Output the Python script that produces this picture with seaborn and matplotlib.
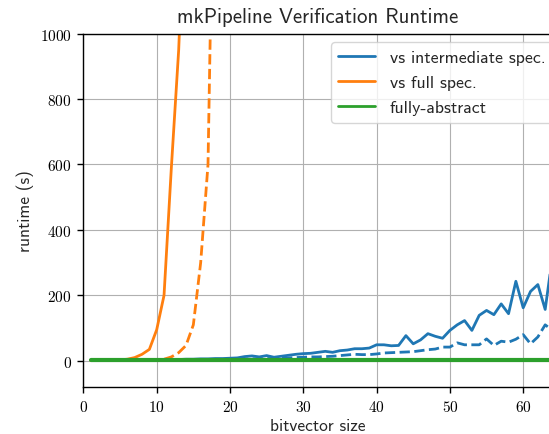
import matplotlib
matplotlib.use("Agg")
import matplotlib.pyplot as plt
import seaborn as sns
import pandas as pd

# ---- data ----
x_inter = list(range(1, 65))
inter_solid = [2, 2, 2, 2, 2, 3, 3, 3, 3,
               3, 4, 4, 4, 5, 5, 6, 6, 7, 7, 8, 9,
               13, 15, 12, 16, 11, 14, 17, 20, 22, 23, 26, 29, 26, 31, 33, 37, 37, 39,
               49, 49, 46, 47, 77, 52, 64, 83, 75, 69, 93, 110, 123, 93, 139, 154,
               141, 174, 144, 243, 162, 212, 233, 157, 320]
inter_dashed = [1, 1, 1, 1, 1, 1, 2, 2, 2, 2, 2, 2, 3, 3, 3, 3, 3, 4, 4, 4,
                5, 5, 6, 6, 7, 7, 8, 9, 10,
                11, 12, 12, 13, 14, 16, 18, 20, 19, 19, 21, 24, 25, 26,
                27, 28, 31, 34, 36, 42, 42, 55, 49, 49, 49, 67, 47, 60, 57, 66,
                80, 52, 73, 110, 93]
x_full_solid = list(range(1, 15))
full_solid = [1, 1, 1, 2, 3, 5, 10, 20, 35, 95, 200, 590, 950, 1500]
x_full_dashed = list(range(1, 19))
full_dashed = [1, 1, 1, 1, 1, 1, 1, 1, 1, 2, 5, 12, 25, 47, 110, 300, 600, 1900]
x_abstract = list(range(1, 65))
abstract = [2, 2, 2, 2, 2, 2, 2, 2, 2, 2, 2, 2, 2, 2, 2, 2,
            2, 2, 2, 2, 2, 2, 2, 2, 2, 2, 2, 2, 2, 2, 2, 2,
            2, 2, 2, 2, 2, 2, 2, 2, 2, 2, 2, 2, 2, 2, 2, 2,
            2, 2, 2, 2, 2, 2, 2, 2, 2, 2, 2, 2, 2, 2, 2, 2]
labels = ["vs intermediate spec.", "vs full spec.", "fully-abstract"]
x_ticks = [0, 10, 20, 30, 40, 50, 60]
y_ticks = [0, 200, 400, 600, 800, 1000]

sns.set_style("ticks")
plt.rcParams.update({
    "axes.grid": True,
    "grid.color": "#b0b0b0",
    "grid.linewidth": 0.8,
    "axes.edgecolor": "black",
    "axes.linewidth": 1.0,
    "xtick.color": "black",
    "ytick.color": "black",
    "axes.formatter.use_mathtext": True,
})
plt.rcParams["font.family"] = ["cmss10", "DejaVu Sans"]

blue, orange, green = "#1f77b4", "#ff7f0e", "#2ca02c"

fig = plt.figure(figsize=(5.49, 4.35), dpi=100)
ax = fig.add_axes([0.1519, 0.108, 0.8545, 0.8126])
ax.set_axisbelow(True)

sns.lineplot(x=x_inter, y=inter_solid, ax=ax, color=blue, lw=2, label=labels[0])
sns.lineplot(x=x_inter, y=inter_dashed, ax=ax, color=blue, lw=2, linestyle="--")
sns.lineplot(x=x_full_solid, y=full_solid, ax=ax, color=orange, lw=2, label=labels[1])
sns.lineplot(x=x_full_dashed, y=full_dashed, ax=ax, color=orange, lw=2, linestyle="--")
sns.lineplot(x=x_abstract, y=abstract, ax=ax, color=green, lw=3, label=labels[2])

ax.set_xlim(0, 64)
ax.set_ylim(-80, 1000)
ax.set_xticks(x_ticks)
ax.set_yticks(y_ticks)
for lbl in ax.get_xticklabels() + ax.get_yticklabels():
    lbl.set_family("cmr10")
    lbl.set_fontsize(11)
ax.tick_params(direction="out", length=4.3, width=1.0, pad=4)
for s in ["top", "left", "bottom"]:
    ax.spines[s].set_visible(True)
    ax.spines[s].set_color("black")
    ax.spines[s].set_linewidth(1.0)
    ax.spines[s].set_zorder(5)
ax.spines["right"].set_visible(False)

ax.set_title("mkPipeline Verification Runtime", fontsize=15, pad=8.5)
ax.set_xlabel("bitvector size", fontsize=12.5, labelpad=3)
ax.set_ylabel("runtime (s)", fontsize=12.5)

leg = ax.legend(loc="upper left", fontsize=12.8, frameon=True, fancybox=True,
                framealpha=0.8, edgecolor="#cccccc", borderaxespad=0.5,
                handlelength=2.1, labelspacing=0.55,
                bbox_to_anchor=(0.5089, 1.0))
for h in leg.get_lines():
    h.set_linewidth(2)

fig.savefig("out.png", dpi=100)
